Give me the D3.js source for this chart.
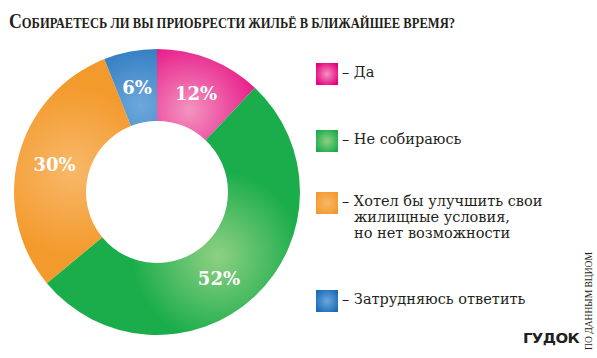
<!DOCTYPE html>
<html>
<head>
<meta charset="utf-8">
<script src="https://cdn.jsdelivr.net/npm/d3@7"></script>
<style>
  html, body { margin: 0; padding: 0; background: #fff; }
  svg { display: block; }
</style>
</head>
<body>
<svg id="chart" width="597" height="358"></svg>
<script>
const titleFirst = "С";
const titleRest = "ОБИРАЕТЕСЬ ЛИ ВЫ ПРИОБРЕСТИ ЖИЛЬЁ В БЛИЖАЙШЕЕ ВРЕМЯ?";
const categories = ["Да", "Не собираюсь", "Хотел бы улучшить свои жилищные условия, но нет возможности", "Затрудняюсь ответить"];
const legendLines = [["Да"], ["Не собираюсь"], ["Хотел бы улучшить свои", "жилищные условия,", "но нет возможности"], ["Затрудняюсь ответить"]];
const values = [12, 52, 30, 6];
const labels = ["12%", "52%", "30%", "6%"];
const colors = ["#e5007d", "#1bad4b", "#f39a2c", "#1a6cb7"];
const lightColors = ["#f394c0", "#8fd083", "#f8b86a", "#6ea8dc"];
const source = "ПО ДАННЫМ ВЦИОМ";
const logo = "ГУДОК";

// layout tweaks for label placement (radians offset along the ring)
const labelAngleShift = [0, 0.13, 0.01, 0];

const svg = d3.select("#chart");
const defs = svg.append("defs");

// Title
const title = svg.append("text")
  .attr("x", 9).attr("y", 28)
  .attr("font-family", "'Liberation Serif', serif")
  .attr("font-weight", "bold")
  .attr("fill", "#231f20")
  .attr("textLength", 446)
  .attr("lengthAdjust", "spacingAndGlyphs");
title.append("tspan").attr("font-size", 20.5).text(titleFirst);
title.append("tspan").attr("font-size", 14.5).text(titleRest);

// Donut
const cx = 157, cy = 192, rOuter = 143, rInner = 71;
const pie = d3.pie().sort(null).value(d => d)(values);
const arc = d3.arc().innerRadius(rInner).outerRadius(rOuter);
const g = svg.append("g").attr("transform", `translate(${cx},${cy})`);

pie.forEach((p, i) => {
  const mid = (p.startAngle + p.endAngle) / 2;
  const rc = 88;
  const gx = rc * Math.sin(mid), gy = -rc * Math.cos(mid);
  const grad = defs.append("radialGradient")
    .attr("id", "sg" + i)
    .attr("gradientUnits", "userSpaceOnUse")
    .attr("cx", gx).attr("cy", gy).attr("fx", gx).attr("fy", gy)
    .attr("r", 85);
  grad.append("stop").attr("offset", "0%").attr("stop-color", lightColors[i]);
  grad.append("stop").attr("offset", "100%").attr("stop-color", colors[i]);
});

g.selectAll("path.slice").data(pie).join("path")
  .attr("class", "slice")
  .attr("d", arc)
  .attr("fill", (d, i) => `url(#sg${i})`);

const labelArc = d3.arc().innerRadius(106).outerRadius(106);
g.selectAll("text.lbl").data(pie).join("text")
  .attr("class", "lbl")
  .attr("transform", (d, i) => {
    const s = labelAngleShift[i];
    const c = labelArc.centroid({startAngle: d.startAngle + s, endAngle: d.endAngle + s});
    return `translate(${c[0]},${c[1]})`;
  })
  .attr("text-anchor", "middle")
  .attr("dy", "0.36em")
  .attr("font-family", "'DejaVu Serif', serif")
  .attr("font-weight", "bold")
  .attr("font-size", 18)
  .attr("fill", "#fff")
  .text((d, i) => labels[i]);

// Legend
const legendY = [63, 130, 192, 290];
const leg = svg.append("g");
legendLines.forEach((lines, i) => {
  const lg = defs.append("radialGradient").attr("id", "lg" + i)
    .attr("cx", "50%").attr("cy", "50%").attr("r", "60%");
  lg.append("stop").attr("offset", "0%").attr("stop-color", lightColors[i]);
  lg.append("stop").attr("offset", "100%").attr("stop-color", colors[i]);
  leg.append("rect")
    .attr("x", 316).attr("y", legendY[i])
    .attr("width", 22).attr("height", 22)
    .attr("fill", `url(#lg${i})`);
  const t = leg.append("text")
    .attr("font-family", "'DejaVu Serif', serif")
    .attr("font-size", 14.5)
    .attr("fill", "#231f20");
  lines.forEach((line, j) => {
    if (j === 0) {
      t.append("tspan").attr("x", 342).attr("y", legendY[i] + 14).text("– " + line);
    } else {
      t.append("tspan").attr("x", 354).attr("y", legendY[i] + 14 + j * 16).text(line);
    }
  });
});

// Source (vertical)
svg.append("text")
  .attr("transform", "translate(592,350) rotate(-90)")
  .attr("font-family", "'Liberation Serif', serif")
  .attr("font-size", 10.5)
  .attr("textLength", 98)
  .attr("lengthAdjust", "spacingAndGlyphs")
  .attr("fill", "#231f20")
  .text(source);

// Logo
svg.append("text")
  .attr("x", 523).attr("y", 343)
  .attr("font-family", "'DejaVu Sans', sans-serif")
  .attr("font-weight", "900")
  .attr("font-size", 14.5)
  .attr("letter-spacing", -0.6)
  .attr("textLength", 56)
  .attr("lengthAdjust", "spacingAndGlyphs")
  .attr("fill", "#231f20")
  .text(logo);
</script>
</body>
</html>
